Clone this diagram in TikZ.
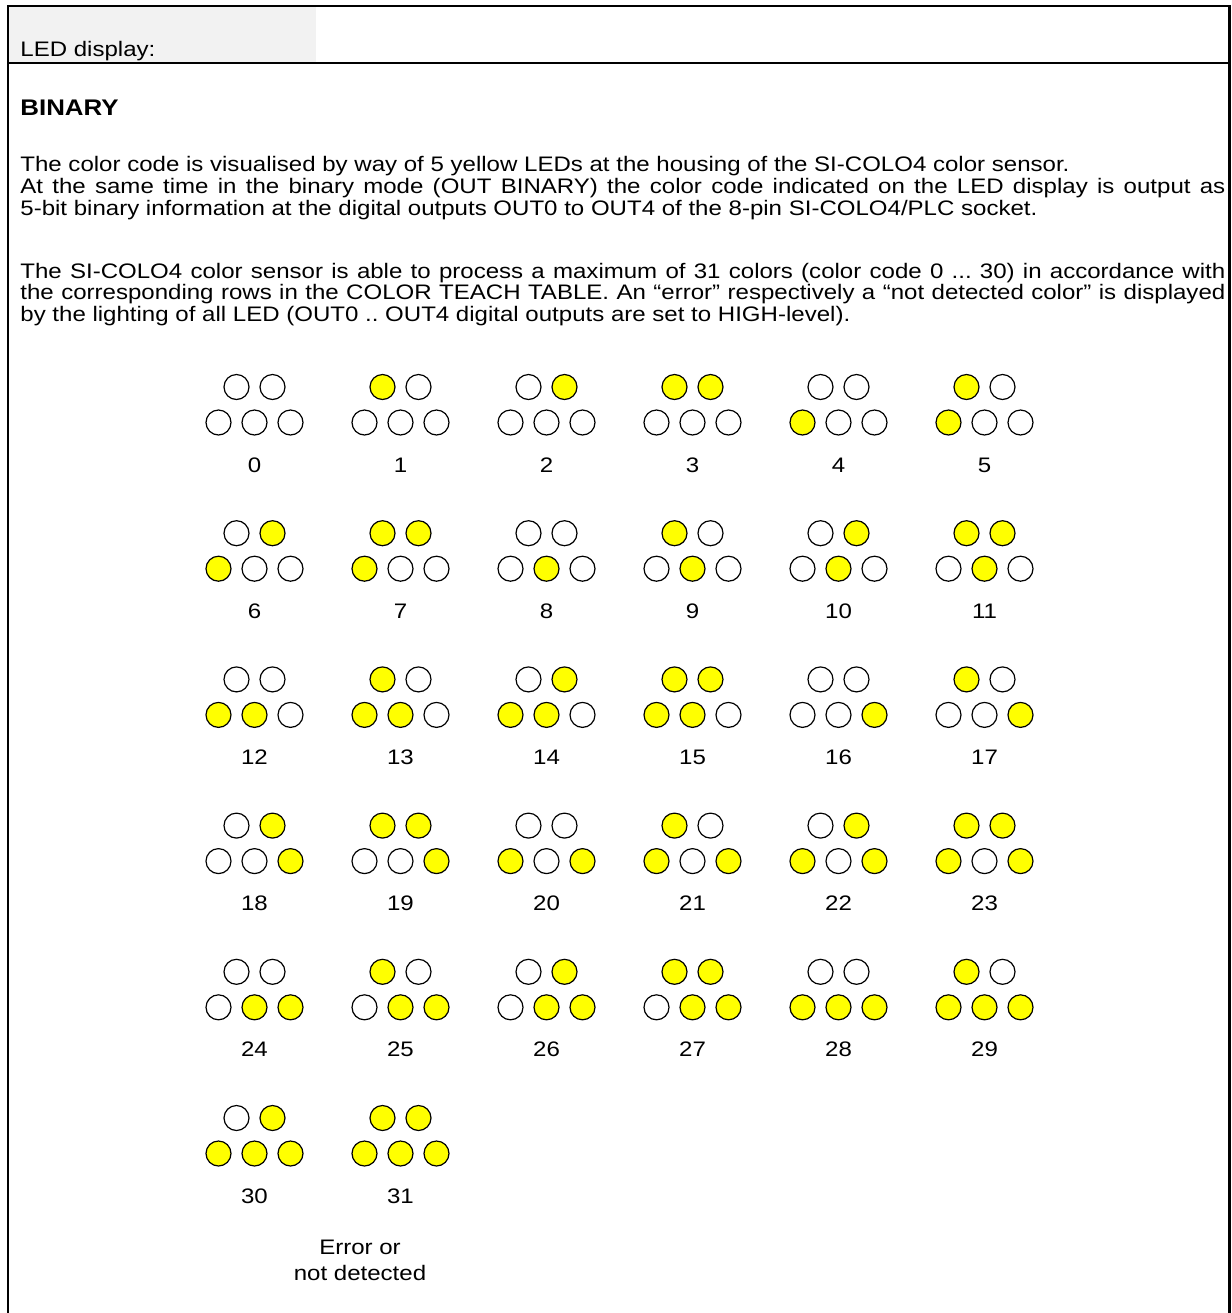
\documentclass[tikz,border=0pt]{standalone}
\usepackage{fontspec}
\setmainfont{Liberation Sans}[FakeStretch=1.145]
\usepackage{tikz}
\usetikzlibrary{positioning}
\definecolor{ledyellow}{HTML}{FFFF00}
\definecolor{headgray}{HTML}{F2F2F2}

\begin{document}
\frenchspacing
\begin{tikzpicture}[x=0.5pt, y=-0.5pt,
    frame/.style={line width=1.3pt},
    txt/.style={font=\fontsize{10.5}{10.85}\selectfont, inner sep=0pt},
    para/.style={txt, text width=602.5pt, align=justify, anchor=base west},
    led/.style={circle, draw, line width=0.6pt, minimum size=12.5pt, inner sep=0pt},
    lbl/.style={txt, anchor=base},
  ]
  \useasboundingbox (0,0) rectangle (1232,1313);

  % Header row and frame
  \fill[headgray] (8,6) rectangle (316,63);
  \draw[frame] (8,1313) -- (8,6) -- (1229.5,6) -- (1229.5,1313);
  \draw[frame] (8,63) -- (1229.5,63);
  \node[txt, anchor=base west] (head) at (20,56) {LED display:};

  % Description
  \node[txt, anchor=base west, font=\fontsize{11.3}{13}\selectfont\bfseries] (mode) at (20,115) {BINARY};
  \node[para] (p1) at (20,171.7) {The color code is visualised by way of 5 yellow LEDs at the housing of the SI-COLO4 color sensor.\newline
    At the same time in the binary mode (OUT BINARY) the color code indicated on the LED display is output as\linebreak
    5-bit binary information at the digital outputs OUT0 to OUT4 of the 8-pin SI-COLO4/PLC socket.};
  \node[para] (p2) at (20,278) {The SI-COLO4 color sensor is able to process a maximum of 31 colors (color code 0 ... 30) in accordance with\linebreak
    the corresponding rows in the COLOR TEACH TABLE. An “error” respectively a “not detected color” is displayed\linebreak
    by the lighting of all LED (OUT0 .. OUT4 digital outputs are set to HIGH-level).};

  % LED codes 0..31, bit k lights LED k
  \foreach \n in {0,...,31}{
    \pgfmathtruncatemacro\c{mod(\n,6)}
    \pgfmathtruncatemacro\r{\n/6}
    \pgfmathsetmacro\xc{254.5+146*\c}
    \pgfmathsetmacro\yt{387+146.2*\r}
    \foreach \k/\dx/\dy in {0/-18/0,1/18/0,2/-36/35.5,3/0/35.5,4/36/35.5}{
      \pgfmathtruncatemacro\on{mod(floor(\n/2^\k),2)}
      \ifnum\on=1 \def\ledfill{ledyellow}\else\def\ledfill{white}\fi
      \node[led, fill=\ledfill] (led\n-\k) at (\xc+\dx,\yt+\dy) {};
    }
    \node[lbl] (code\n) at (\xc,\yt+85) {\n};
  }
  \node[txt, align=center, anchor=base, font=\fontsize{10.5}{13}\selectfont] (err) at (360,1280) {Error or\\not detected};
\end{tikzpicture}
\end{document}
